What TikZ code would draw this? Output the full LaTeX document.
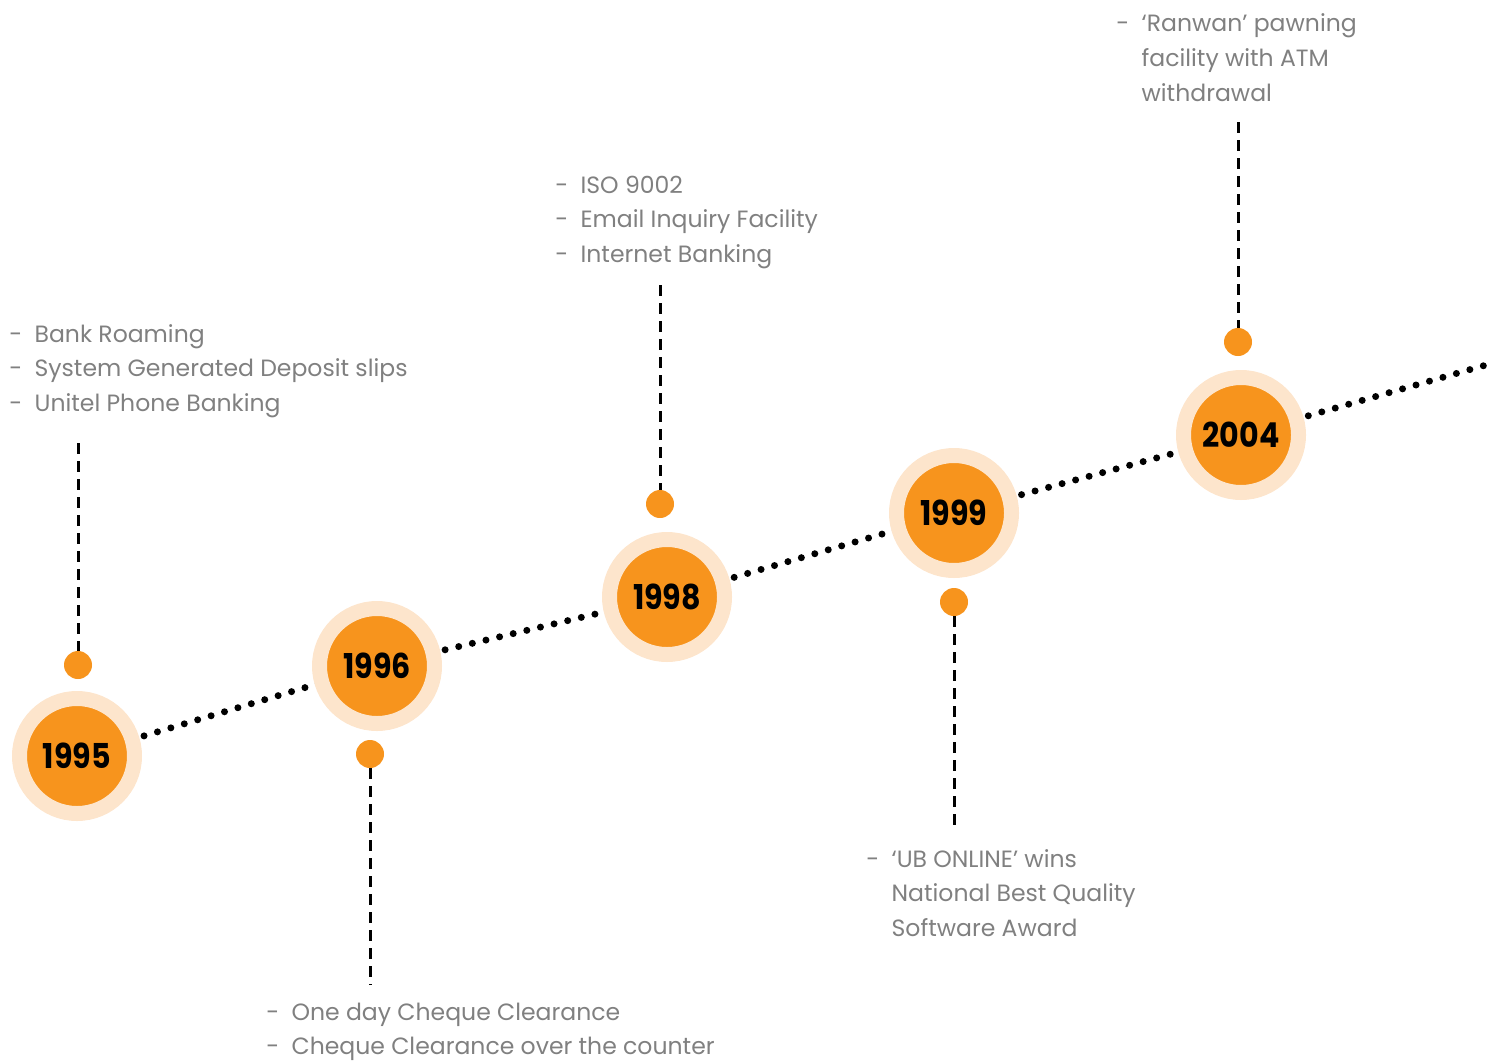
\documentclass[tikz,border=0pt]{standalone}
\usepackage{fontspec}
\setmainfont{Poppins}
\newfontfamily\yearfont[FakeStretch=0.88]{Poppins}
\definecolor{ubOrange}{RGB}{247,148,29}
\definecolor{ubPeach}{RGB}{253,229,204}
\definecolor{ubGray}{RGB}{128,128,128}
\tikzset{
  year/.style={circle, fill=ubOrange, draw=ubPeach, line width=15*0.02cm,
    minimum size=115*0.02cm, inner sep=0pt,
    font=\yearfont\bfseries\fontsize{19.5pt}{19.5pt}\selectfont, text=black},
  pin/.style={circle, fill=ubOrange, minimum size=28*0.02cm, inner sep=0pt},
  stem/.style={line width=3*0.02cm, dash pattern=on 11*0.02cm off 7*0.02cm},
  trail/.style={line width=7*0.02cm, line cap=round,
    dash pattern=on 0pt off 14*0.02cm},
  notes/.style={anchor=base west, inner sep=0pt, text=ubGray,
    font=\fontsize{13.4pt}{19.9pt}\selectfont}
}
\newcommand{\notelist}[1]{\begin{tabular}[t]{@{}l@{\hspace{7pt}}l@{}}#1\end{tabular}}
\begin{document}
\begin{tikzpicture}[x=0.02cm,y=-0.02cm]
  \useasboundingbox (0,0) rectangle (1493,1061);

  % milestone positions
  \coordinate (p95) at (77,756);
  \coordinate (p96) at (377,666);
  \coordinate (p98) at (667,597);
  \coordinate (p99) at (954,513);
  \coordinate (p04) at (1241,435);
  \coordinate (tail) at (1493,363);

  % dotted time line, drawn underneath the year discs
  \draw[trail] (p95) -- (p96);
  \draw[trail] (p96) -- (p98);
  \draw[trail] (p98) -- (p99);
  \draw[trail] (p99) -- (p04);
  \draw[trail] (p04) -- (tail);

  % year discs
  \node[year] (y95) at (p95) {1995};
  \node[year] (y96) at (p96) {1996};
  \node[year] (y98) at (p98) {1998};
  \node[year] (y99) at (p99) {1999};
  \node[year] (y04) at (p04) {2004};

  % small pins beside each disc
  \node[pin] (d95) at (78,665) {};
  \node[pin] (d96) at (370,754) {};
  \node[pin] (d98) at (660,504) {};
  \node[pin] (d99) at (954,602) {};
  \node[pin] (d04) at (1238,342) {};

  % stem ends
  \coordinate (s95) at (78,443);
  \coordinate (s96) at (370,985);
  \coordinate (s98) at (660,285);
  \coordinate (s99) at (954,825);
  \coordinate (s04) at (1238,122);

  \draw[stem] (s95) -- (d95);
  \draw[stem] (d96) -- (s96);
  \draw[stem] (s98) -- (d98);
  \draw[stem] (d99) -- (s99);
  \draw[stem] (s04) -- (d04);

  % milestone notes
  \node[notes] (n95) at (9,342)
    {\notelist{-&Bank Roaming\\-&System Generated Deposit slips\\-&Unitel Phone Banking}};
  \node[notes] (n96) at (266,1020)
    {\notelist{-&One day Cheque Clearance\\-&Cheque Clearance over the counter}};
  \node[notes] (n98) at (555,193)
    {\notelist{-&ISO 9002\\-&Email Inquiry Facility\\-&Internet Banking}};
  \node[notes] (n99) at (866,867)
    {\notelist{-&`UB ONLINE’ wins\\&National Best Quality\\&Software Award}};
  \node[notes] (n04) at (1116,32)
    {\notelist{-&`Ranwan’ pawning\\&facility with ATM\\&withdrawal}};
\end{tikzpicture}
\end{document}
